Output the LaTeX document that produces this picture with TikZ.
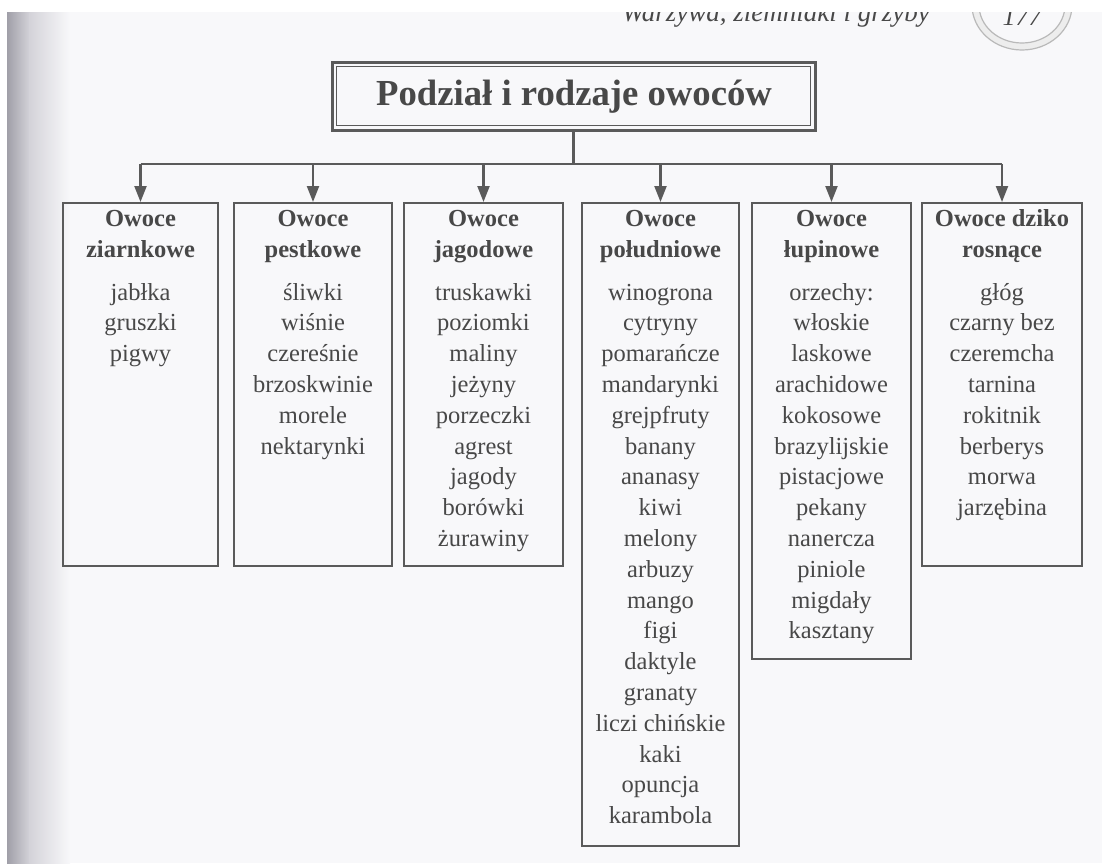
\documentclass[tikz,border=0pt]{standalone}
\usepackage{fontspec}
\setmainfont{Liberation Serif}
\usetikzlibrary{arrows.meta,calc}
\definecolor{page}{HTML}{F8F8FA}
\definecolor{ink}{HTML}{484848}
\definecolor{rule}{HTML}{5A5A5A}
\definecolor{gutter}{HTML}{A09FA8}
\definecolor{gutmid}{HTML}{D4D3D9}
\newcommand{\fruitcol}[5]{%
  \node[headtxt] (#1-h1) at (#2,226) {#3};
  \node[headtxt] (#1-h2) at (#2,257) {#4};
  \foreach \w [count=\i] in {#5} {
    \node[itemtxt] (#1-\i) at (#2,{300+30.8*(\i-1)}) {\w};
  }%
}
\begin{document}
\begin{tikzpicture}[x=1pt,y=-1pt,
  catbox/.style={draw=rule, line width=2.4pt, inner sep=0pt, anchor=north, minimum width=#1},
  headtxt/.style={anchor=base, inner sep=0pt, text=ink, font=\bfseries\fontsize{24.5}{29}\selectfont},
  itemtxt/.style={anchor=base, inner sep=0pt, text=ink, font=\fontsize{24.5}{29}\selectfont},
  bus/.style={draw=rule, line width=2.2pt},
  down/.style={draw=rule, line width=2.2pt, -{Triangle[length=16pt,width=12pt]}}]
\useasboundingbox (0,0) rectangle (1102,863);
\fill[page] (0,0) rectangle (1102,863);
\shade[left color=gutter, right color=gutmid] (7,12) rectangle (30,863);
\shade[left color=gutmid, right color=page] (29.5,12) rectangle (70,863);
% running head (cut by page edge)
\node[anchor=base east, inner sep=0pt, text=ink, font=\itshape\fontsize{27}{30}\selectfont] (hdr) at (930,21) {Warzywa, ziemniaki i grzyby};
\draw[gray!55, line width=1.2pt, fill=gray!14] (1022,5) ellipse [x radius=50, y radius=45];
\draw[gray!55, line width=1.2pt, fill=page] (1022,5) ellipse [x radius=43, y radius=38];
\node[anchor=base, inner sep=0pt, text=ink, font=\itshape\fontsize{26}{30}\selectfont] (pgnum) at (1022,25) {177};
\fill[white] (0,0) rectangle (1102,12);
\fill[white] (0,0) rectangle (7,863);
% title
\node[draw=rule, line width=3pt, minimum width=483pt, minimum height=68pt, inner sep=0pt] (title) at (573.5,96) {};
\draw[rule, line width=1.6pt] ($(title.north west)+(6,6)$) rectangle ($(title.south east)+(-6,-6)$);
\node[anchor=base, inner sep=0pt, text=ink, font=\bfseries\fontsize{36.7}{40}\selectfont] (titletxt) at (574,105) {Podział i rodzaje owoców};
% boxes
\node[catbox=155pt, minimum height=363pt] (box1) at (140.5,202) {};
\node[catbox=158pt, minimum height=363pt] (box2) at (313,202) {};
\node[catbox=159pt, minimum height=363pt] (box3) at (483.5,202) {};
\node[catbox=157pt, minimum height=643pt] (box4) at (660.5,202) {};
\node[catbox=159pt, minimum height=456pt] (box5) at (831.5,202) {};
\node[catbox=160pt, minimum height=363pt] (box6) at (1002,202) {};
% connectors
\coordinate (hub) at (573.5,164);
\draw[bus] (title.south) -- (hub);
\draw[bus] (box1.north |- hub) -- (box6.north |- hub);
\foreach \b in {box1,box2,box3,box4,box5,box6}
  \draw[down] (\b.north |- hub) -- (\b.north);
% texts
\fruitcol{c1}{140.5}{Owoce}{ziarnkowe}{jabłka,gruszki,pigwy}
\fruitcol{c2}{313}{Owoce}{pestkowe}{śliwki,wiśnie,czereśnie,brzoskwinie,morele,nektarynki}
\fruitcol{c3}{483.5}{Owoce}{jagodowe}{truskawki,poziomki,maliny,jeżyny,porzeczki,agrest,jagody,borówki,żurawiny}
\fruitcol{c4}{660.5}{Owoce}{południowe}{winogrona,cytryny,pomarańcze,mandarynki,grejpfruty,banany,ananasy,kiwi,melony,arbuzy,mango,figi,daktyle,granaty,liczi chińskie,kaki,opuncja,karambola}
\fruitcol{c5}{831.5}{Owoce}{łupinowe}{orzechy:,włoskie,laskowe,arachidowe,kokosowe,brazylijskie,pistacjowe,pekany,nanercza,piniole,migdały,kasztany}
\fruitcol{c6}{1002}{Owoce dziko}{rosnące}{głóg,czarny bez,czeremcha,tarnina,rokitnik,berberys,morwa,jarzębina}
\end{tikzpicture}
\end{document}
